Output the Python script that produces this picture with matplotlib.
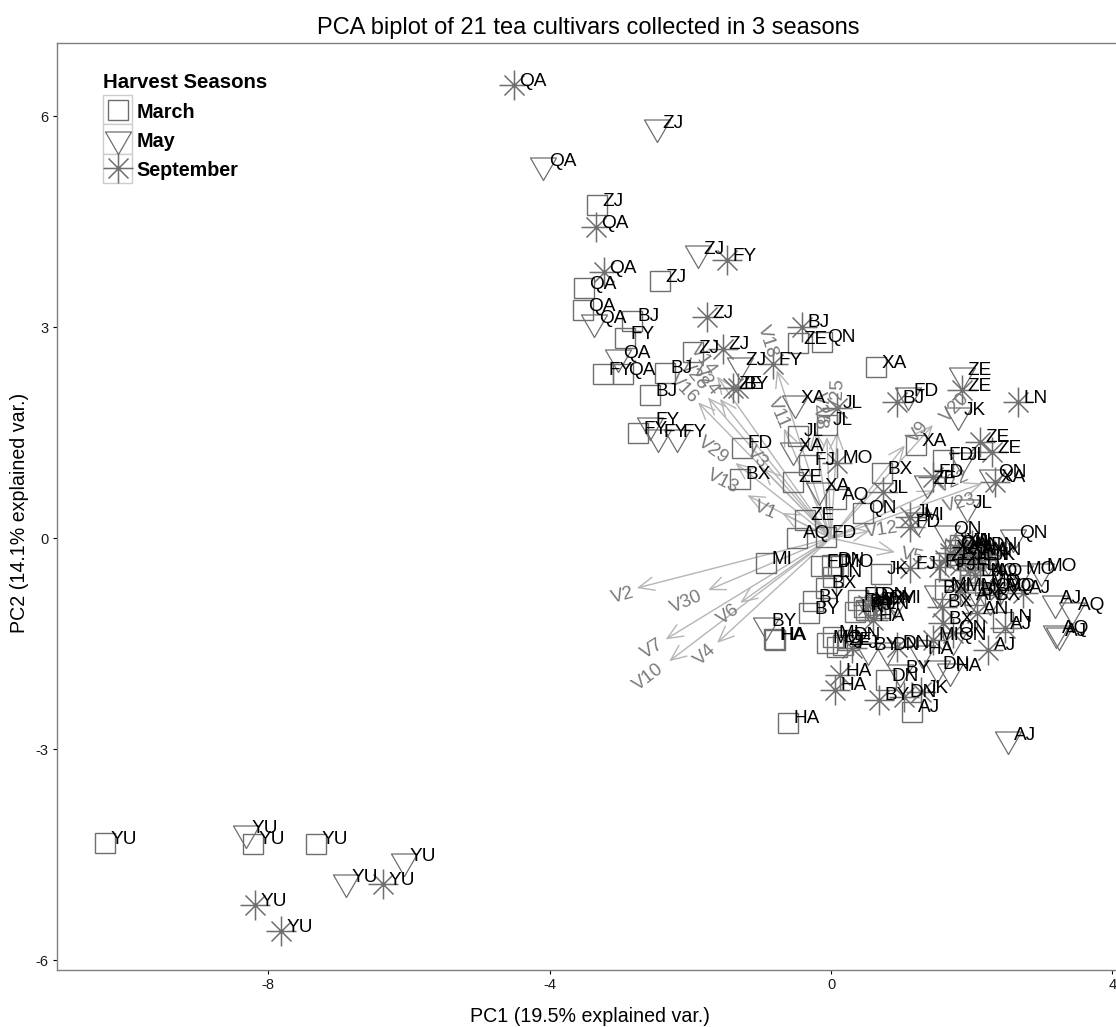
import numpy as np
import matplotlib
matplotlib.use("Agg")
import matplotlib.pyplot as plt
from matplotlib.lines import Line2D
from matplotlib.patches import Rectangle
from matplotlib.path import Path

plt.rcParams["font.family"] = ["Liberation Sans", "DejaVu Sans"]
plt.rcParams["axes.unicode_minus"] = False

march_labels = ["YU", "YU", "YU", "ZJ", "ZJ", "ZJ", "QA", "QA", "BJ", "FY", "FY", "QA", "BJ", "BJ", "FY",
                "FD", "BX", "ZE", "QN", "XA", "JL", "JL", "FJ", "ZE", "AQ", "ZE", "AQ", "FD", "QN", "BX",
                "XA", "FD", "MI", "FD", "DN", "MO", "LN", "JK", "BX", "BY", "BY", "LN", "HA", "HA", "HA",
                "MI", "MO", "FJ", "ZE", "DN", "FJ", "BX", "DN", "AJ", "LN", "MI", "BX", "XA", "JL", "QN",
                "FJ", "MO", "AQ", "FD", "BY", "LN"]
march_x = [-10.32, -8.22, -7.32, -3.33, -2.43, -1.96, -3.51, -3.53, -2.83, -2.93, -3.24, -2.96, -2.36, -2.57, -2.74,
           -1.27, -1.29, -0.47, -0.13, 0.64, -0.47, -0.06, -0.31, -0.54, 0.07, -0.37, -0.48, -0.07, 0.45, 0.72,
           1.21, 1.59, -0.92, -0.14, 0.01, 0.10, 0.03, 0.71, -0.07, -0.26, -0.31, 0.34, -0.81, -0.80, -0.61,
           0.03, -0.06, 0.09, 0.17, 0.24, 0.50, 0.63, 0.78, 1.15, 2.44, 1.62, 2.05, 1.83, 1.95, 1.76,
           1.69, 2.19, 2.26, 0.38, 0.47, 0.70]
march_y = [-4.34, -4.35, -4.35, 4.73, 3.65, 2.64, 3.55, 3.24, 3.09, 2.84, 2.33, 2.33, 2.35, 2.03, 1.49,
           1.28, 0.84, 2.77, 2.79, 2.43, 1.45, 1.61, 1.04, 0.80, 0.55, 0.26, 0.00, 0.01, 0.36, 0.92,
           1.32, 1.11, -0.36, -0.40, -0.38, -0.40, -0.55, -0.51, -0.71, -0.90, -1.07, -1.05, -1.44, -1.45, -2.63,
           -1.41, -1.49, -1.55, -1.52, -1.45, -1.02, -0.95, -2.02, -2.47, -1.19, -0.73, -0.81, -0.10, -0.31, -0.17,
           -0.45, -0.67, -0.53, -0.88, -0.98, -1.00]

may_labels = ["YU", "YU", "YU", "QA", "ZJ", "ZJ", "QA", "QA", "FY", "FY", "FY", "ZJ", "XA", "XA", "XA",
              "ZE", "JK", "FD", "ZE", "JL", "QN", "JL", "MI", "QN", "QN", "MO", "MO", "AJ", "AQ", "AQ",
              "AJ", "AJ", "BY", "BX", "QN", "DN", "BY", "HA", "DN", "HA", "BY", "AN", "MO", "FJ", "MI",
              "JK", "AN", "AQ", "MO", "BX"]
may_x = [-8.32, -6.89, -6.07, -4.09, -2.47, -1.89, -3.37, -3.03, -2.57, -2.46, -2.19, -1.29, -0.51, -0.54, -0.17,
         1.86, 1.81, 1.09, 1.36, 1.86, 2.29, 1.93, 1.24, 2.59, 1.65, 2.99, 2.69, 3.18, 3.43, 3.20,
         3.24, 2.52, -0.92, 1.51, 1.73, 0.80, 0.53, 1.29, 1.51, 1.69, 0.98, 1.98, 2.40, 0.55, 0.91,
         2.23, 1.98, 2.19, 2.05, 2.26]
may_y = [-4.19, -4.89, -4.59, 5.30, 5.84, 4.05, 3.07, 2.57, 1.61, 1.44, 1.44, 2.46, 1.92, 1.25, 0.68,
         2.32, 1.75, 2.03, 0.78, 1.11, 0.87, 0.44, 0.26, 0.01, 0.07, -0.46, -0.50, -0.92, -1.02, -1.35,
         -1.38, -2.86, -1.24, -0.78, -1.45, -1.59, -1.59, -1.64, -1.85, -1.89, -1.91, -0.88, -0.74, -1.00, -0.92,
         -0.31, -0.17, -0.53, -0.74, -0.88]

sept_labels = ["QA", "QA", "QA", "ZJ", "FY", "BJ", "ZJ", "FY", "ZE", "BY", "BJ", "ZE", "LN", "ZE", "ZE",
               "XA", "FD", "JL", "JI", "FD", "MO", "JL", "YU", "YU", "YU", "HA", "HA", "BY", "DN", "JK",
               "AJ", "AJ", "BX", "BX", "AN", "AJ", "HA", "FJ", "DN", "MI", "QN", "FJ", "FJ", "JL", "AN",
               "DN", "XA", "ZE", "AQ", "LN", "MI", "MI", "DN", "BY", "QN", "XA", "JL", "LN", "AN", "ZE",
               "FD"]
sept_x = [-4.51, -3.34, -3.23, -1.76, -1.48, -0.41, -1.54, -0.82, -1.39, -1.32, 0.94, 1.86, 2.66, 2.12, 2.29,
          2.33, 1.45, 0.74, 1.12, 1.12, 0.09, 0.09, -8.19, -7.82, -6.37, 0.13, 0.06, 0.68, 1.04, 1.28,
          2.23, 2.47, 1.58, 1.59, 2.08, 2.73, 0.60, 0.30, 0.94, 1.45, 1.73, 1.12, 1.54, 1.90, 2.05,
          2.19, 1.69, 1.62, 2.40, 2.05, 1.83, 0.53, 0.63, 0.77, 1.76, 1.90, 2.00, 2.12, 2.26, 1.83,
          1.98]
sept_y = [6.44, 4.42, 3.78, 3.14, 3.95, 3.00, 2.69, 2.47, 2.13, 2.13, 1.93, 2.10, 1.93, 1.37, 1.22,
          0.80, 0.87, 0.65, 0.30, 0.16, 1.07, 1.85, -5.22, -5.59, -4.92, -1.95, -2.16, -2.30, -2.26, -2.19,
          -1.59, -1.28, -0.98, -1.21, -1.07, -0.78, -1.17, -1.56, -1.55, -1.45, -1.35, -0.43, -0.41, -0.10, -0.24,
          -0.17, -0.21, -0.31, -0.74, -0.53, -0.74, -0.95, -0.88, -0.92, -0.14, -0.24, -0.10, -0.31, -0.24, -0.38,
          -0.45]

var_names = ["V1", "V2", "V3", "V4", "V5", "V6", "V7", "V8", "V9", "V10", "V11", "V12", "V13", "V14", "V16",
             "V18", "V20", "V22", "V23", "V24", "V25", "V26", "V28", "V29", "V30"]
var_x = [-0.70, -2.76, -0.97, -1.62, 0.91, -1.29, -2.35, -0.06, 1.05, -2.30, -0.67, 0.55, -1.19, -1.62, -1.89,
         -0.77, 1.45, 1.48, 2.15, -1.58, 0.09, -0.23, -1.75, -1.36, -1.75]
var_y = [0.36, -0.71, 1.00, -1.49, -0.20, -0.92, -1.44, 1.44, 1.32, -1.75, 1.56, 0.10, 0.61, 2.30, 1.93,
         2.39, 1.61, 0.68, 0.78, 1.98, 1.51, 1.54, 2.00, 1.07, -0.74]
var_label_x = [-0.94, -2.96, -1.05, -1.79, 1.15, -1.46, -2.54, -0.16, 1.24, -2.59, -0.75, 0.72, -1.54, -1.81, -2.09,
               -0.90, 1.76, 1.73, 1.83, -1.78, 0.10, -0.16, -1.95, -1.68, -2.06]
var_label_y = [0.40, -0.82, 1.15, -1.66, -0.26, -1.08, -1.58, 1.71, 1.51, -1.98, 1.78, 0.11, 0.80, 2.53, 2.13,
               2.79, 1.85, 0.80, 0.50, 2.25, 2.03, 1.85, 2.32, 1.25, -0.91]

season_names = ["March", "May", "September"]
x_ticks = [-8, -4, 0, 4]
y_ticks = [-6, -3, 0, 3, 6]

W, H = 1116, 1027
MARK_GREY = "#6e6e6e"
ARROW_GREY = "#b5b5b5"
VAR_GREY = "#7a7a7a"

# open triangle and 8 arm star like R pch 6 and pch 8
tri = Path([(-13, 7.5), (13, 7.5), (0, -15), (-13, 7.5)], closed=True)
star_pts = [(-15, 0), (15, 0), (0, -15), (0, 15), (-10, -10), (10, 10), (-10, 10), (10, -10)]
star = Path(star_pts, [Path.MOVETO, Path.LINETO] * 4)

styles = {
    "March": dict(marker="s", markersize=14.2, markeredgewidth=1.0),
    "May": dict(marker=tri, markersize=21.6, markeredgewidth=0.9),
    "September": dict(marker=star, markersize=21.6, markeredgewidth=1.1),
}

fig = plt.figure(figsize=(W / 100, H / 100), dpi=100)
ax = fig.add_axes([57 / W, (H - 970) / H, (W - 57) / W, (970 - 43) / H])
ax.set_xlim(-11.0, 4.05)
ax.set_ylim(-6.14, 7.04)

for x, y in zip(var_x, var_y):
    ax.annotate("", xy=(x, y), xytext=(0, 0), zorder=1,
                arrowprops=dict(arrowstyle="->,head_length=0.7,head_width=0.3", color=ARROW_GREY,
                                lw=1.0, shrinkA=0, shrinkB=0, mutation_scale=16))

for name, lx, ly in zip(var_names, var_label_x, var_label_y):
    rot = np.degrees(np.arctan(ly / lx))
    ax.text(lx, ly, name, color=VAR_GREY, fontsize=13.5, rotation=rot, rotation_mode="anchor",
            ha="center", va="center", zorder=2.5)

seasons = [("March", march_labels, march_x, march_y),
           ("May", may_labels, may_x, may_y),
           ("September", sept_labels, sept_x, sept_y)]
for name, labels, xs, ys in seasons:
    ax.plot(xs, ys, linestyle="none", color=MARK_GREY, markerfacecolor="none", zorder=2, **styles[name])
    for lab, x, y in zip(labels, xs, ys):
        ax.annotate(lab, (x, y), xytext=(4, 3), textcoords="offset points", fontsize=13.7,
                    color="black", ha="left", va="center", zorder=3)

ax.set_xticks(x_ticks)
ax.set_yticks(y_ticks)
ax.tick_params(length=3, width=0.8, color="black", labelsize=10.5, labelcolor="#1a1a1a", pad=3)
for spine in ax.spines.values():
    spine.set_color("#7f7f7f")
    spine.set_linewidth(1.0)
ax.spines["right"].set_visible(False)

fig.text(588 / W, 1 - 28 / H, "PCA biplot of 21 tea cultivars collected in 3 seasons", fontsize=17,
         ha="center", va="center")
fig.text(590 / W, 1 - 1017 / H, "PC1 (19.5% explained var.)", fontsize=14.1, ha="center", va="center")
fig.text(20 / W, 1 - 513 / H, "PC2 (14.1% explained var.)", fontsize=14.1, rotation=90, ha="center", va="center")

# hand made legend, same key boxes as the ggplot one
fig.text(103 / W, 1 - 82 / H, "Harvest Seasons", fontsize=14.7, fontweight="bold", ha="left", va="center")
for i, name in enumerate(season_names):
    top = 95 + i * 29.3
    fig.add_artist(Rectangle((103 / W, 1 - (top + 29.3) / H), 29 / W, 29.3 / H, transform=fig.transFigure,
                             facecolor="white", edgecolor="#cccccc", linewidth=1.0))
    fig.add_artist(Line2D([117.5 / W], [1 - (top + 14.6) / H], transform=fig.transFigure, color=MARK_GREY,
                          markerfacecolor="none", linestyle="none", **styles[name]))
    fig.text(136.5 / W, 1 - (top + 17) / H, name, fontsize=14.2, fontweight="bold", ha="left", va="center")

fig.savefig("out.png", dpi=100)
